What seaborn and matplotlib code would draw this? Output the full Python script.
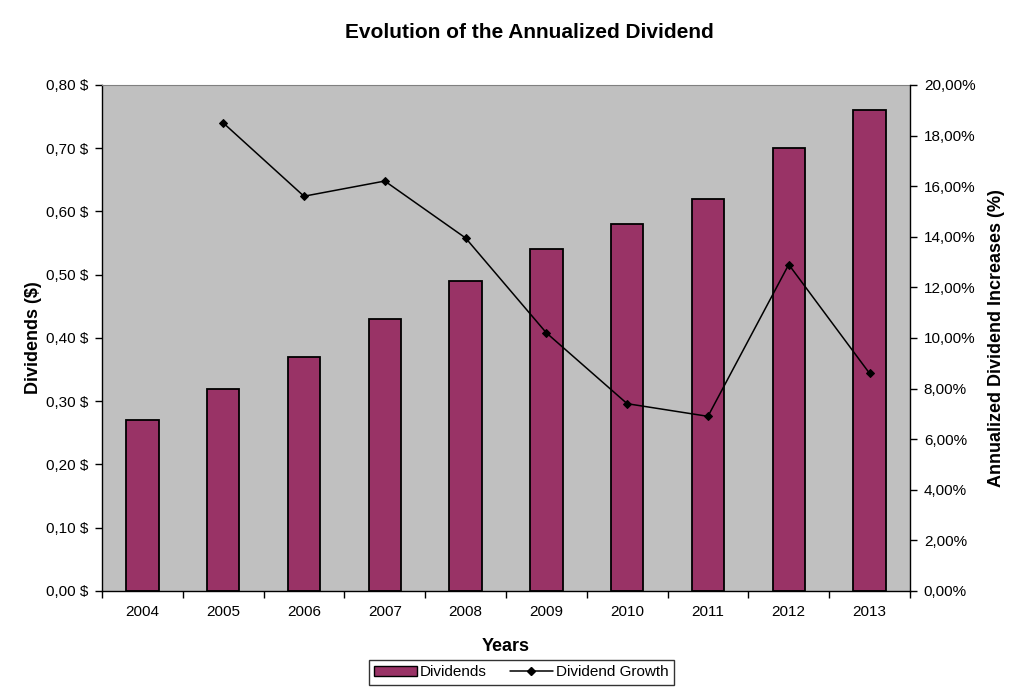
import matplotlib
matplotlib.use("Agg")
import matplotlib.pyplot as plt
import seaborn as sns
import pandas as pd
from matplotlib.ticker import FuncFormatter, FixedLocator
from matplotlib.patches import Patch
from matplotlib.lines import Line2D

# Data
years = ["2004", "2005", "2006", "2007", "2008", "2009", "2010", "2011", "2012", "2013"]
dividends = [0.27, 0.32, 0.37, 0.43, 0.49, 0.54, 0.58, 0.62, 0.70, 0.76]
growth_years = ["2005", "2006", "2007", "2008", "2009", "2010", "2011", "2012", "2013"]
growth_pct = [18.5, 15.6, 16.2, 13.95, 10.2, 7.4, 6.9, 12.9, 8.6]

sns.set_style("white")
plt.rcParams["font.family"] = ["Liberation Sans", "DejaVu Sans"]
plt.rcParams["text.color"] = "black"
plt.rcParams["axes.labelcolor"] = "black"
plt.rcParams["xtick.color"] = "black"
plt.rcParams["ytick.color"] = "black"

bar_color = "#993366"
bg_color = "#C0C0C0"

fig = plt.figure(figsize=(10.24, 6.96), dpi=100)
ax = fig.add_axes([0.0996, 0.151, 0.789, 0.727])
ax.set_facecolor(bg_color)

df = pd.DataFrame({"Year": years, "Dividends": dividends})
sns.barplot(data=df, x="Year", y="Dividends", color=bar_color, width=0.4,
            edgecolor="black", linewidth=1.3, saturation=1, ax=ax, zorder=2)

ax.set_ylim(0, 0.8)
ax.set_yticks([i / 10 for i in range(9)])
ax.yaxis.set_major_formatter(FuncFormatter(lambda v, p: f"{v:.2f} $".replace(".", ",")))
ax.set_xlim(-0.5, len(years) - 0.5)
ax.tick_params(axis="x", which="major", length=0, labelsize=11, pad=10)
ax.xaxis.set_minor_locator(FixedLocator([i - 0.5 for i in range(len(years) + 1)]))
ax.tick_params(axis="x", which="minor", length=5, width=1, direction="out", bottom=True)
ax.tick_params(axis="y", length=5, width=1, direction="out", left=True, labelsize=11, pad=5)
ax.set_xlabel("Years", fontsize=13, fontweight="bold", labelpad=14)
ax.set_ylabel("Dividends ($)", fontsize=13, fontweight="bold", labelpad=3)

for side in ["left", "bottom"]:
    ax.spines[side].set_color("black")
    ax.spines[side].set_linewidth(1)
ax.spines["top"].set_color("#808080")
ax.spines["right"].set_visible(False)

# Secondary axis: dividend growth
ax2 = ax.twinx()
gx = [years.index(y) for y in growth_years]
sns.lineplot(x=gx, y=growth_pct, ax=ax2, color="black", linewidth=1.1,
             marker="D", markersize=4.5, markeredgecolor="black")
ax2.set_ylim(0, 20)
ax2.set_yticks(range(0, 21, 2))
ax2.yaxis.set_major_formatter(FuncFormatter(lambda v, p: f"{v:.2f}%".replace(".", ",")))
ax2.tick_params(axis="y", length=5, width=1, direction="out", right=True, labelsize=11, pad=5)
ax2.set_ylabel("Annualized Dividend Increases (%)", fontsize=13, fontweight="bold", labelpad=9)
for side in ["left", "bottom", "top"]:
    ax2.spines[side].set_visible(False)
ax2.spines["right"].set_color("black")
ax2.spines["right"].set_linewidth(1)
ax2.set_xlim(-0.5, len(years) - 0.5)

fig.suptitle("Evolution of the Annualized Dividend", fontsize=15, fontweight="bold",
             x=0.517, y=0.967)

handles = [
    Patch(facecolor=bar_color, edgecolor="black", label="Dividends"),
    Line2D([0], [0], color="black", marker="D", markersize=4.5, linewidth=1.1, label="Dividend Growth"),
]
leg = fig.legend(handles=handles, loc="lower center", bbox_to_anchor=(0.509, 0.012), ncol=2,
                 frameon=True, fancybox=False, edgecolor="black", fontsize=11,
                 handlelength=2.8, handletextpad=0.2, columnspacing=1.5, borderpad=0.35,
                 borderaxespad=0.2)
leg.get_frame().set_linewidth(1)

fig.savefig("out.png", dpi=100)
